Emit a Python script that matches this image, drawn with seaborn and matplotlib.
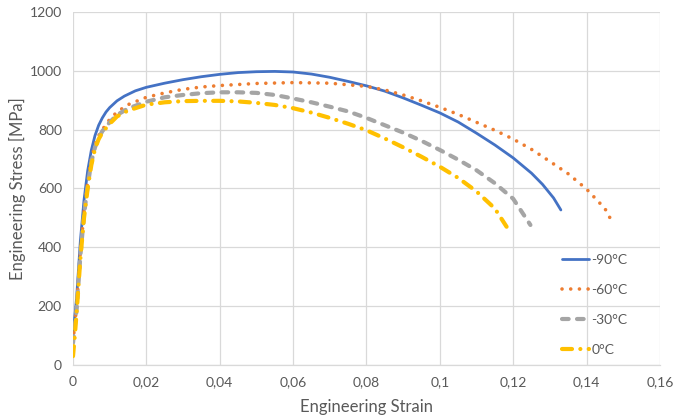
import numpy as np
import pandas as pd
import matplotlib
matplotlib.use("Agg")
import matplotlib.pyplot as plt
from matplotlib.ticker import FuncFormatter
import seaborn as sns

# Engineering stress-strain curves at four test temperatures
labels = ["-90°C", "-60°C", "-30°C", "0°C"]

strain_m90 = [0, 0.001, 0.002, 0.003, 0.004, 0.005, 0.006, 0.007, 0.008, 0.009, 0.010,
              0.012, 0.014, 0.017, 0.020, 0.025, 0.030, 0.035, 0.040, 0.045, 0.050,
              0.055, 0.060, 0.065, 0.070, 0.075, 0.080, 0.085, 0.090, 0.095, 0.100,
              0.105, 0.110, 0.115, 0.120, 0.125, 0.128, 0.131, 0.133]
stress_m90 = [100, 230, 420, 560, 660, 730, 780, 815, 840, 860, 875,
              898, 914, 932, 944, 958, 970, 980, 988, 994, 997,
              998, 996, 989, 978, 964, 949, 931, 908, 883, 857,
              826, 788, 748, 704, 652, 614, 568, 527]

strain_m60 = [0, 0.001, 0.002, 0.003, 0.004, 0.005, 0.006, 0.007, 0.008, 0.010, 0.012,
              0.015, 0.020, 0.025, 0.030, 0.035, 0.040, 0.050, 0.060, 0.070, 0.080,
              0.085, 0.090, 0.095, 0.100, 0.105, 0.110, 0.115, 0.120, 0.125, 0.130,
              0.135, 0.140, 0.145, 0.147]
stress_m60 = [80, 200, 380, 520, 620, 700, 750, 780, 800, 835, 860,
              885, 910, 925, 937, 945, 950, 957, 960, 958, 947,
              935, 918, 898, 876, 852, 825, 798, 768, 733, 692,
              650, 598, 532, 486]

strain_m30 = [0, 0.001, 0.002, 0.003, 0.004, 0.005, 0.006, 0.007, 0.008, 0.010, 0.012,
              0.015, 0.020, 0.025, 0.030, 0.035, 0.040, 0.045, 0.050, 0.055, 0.060,
              0.065, 0.070, 0.075, 0.080, 0.085, 0.090, 0.095, 0.100, 0.105, 0.110,
              0.115, 0.120, 0.1247]
stress_m30 = [75, 190, 370, 510, 610, 690, 740, 772, 795, 825, 850,
              872, 895, 910, 918, 924, 927, 927, 925, 918, 906,
              893, 878, 862, 840, 815, 790, 762, 731, 698, 662,
              618, 565, 476]

strain_0 = [0, 0.0005, 0.001, 0.002, 0.003, 0.004, 0.005, 0.006, 0.007, 0.008, 0.010,
            0.012, 0.015, 0.020, 0.025, 0.030, 0.035, 0.040, 0.045, 0.050, 0.055,
            0.060, 0.065, 0.070, 0.075, 0.080, 0.085, 0.090, 0.095, 0.100, 0.105,
            0.110, 0.115, 0.1182]
stress_0 = [30, 100, 180, 360, 500, 600, 680, 735, 768, 790, 820,
            845, 865, 885, 893, 897, 898, 898, 896, 891, 884,
            873, 858, 840, 820, 798, 770, 740, 708, 674, 636,
            590, 532, 470]

x_ticks = [0, 0.02, 0.04, 0.06, 0.08, 0.10, 0.12, 0.14, 0.16]
y_ticks = [0, 200, 400, 600, 800, 1000, 1200]

series = [
    (labels[0], strain_m90, stress_m90, "#4472C4", 2.0, "-"),
    (labels[1], strain_m60, stress_m60, "#ED7D31", 2.6, (0, (0.01, 2.4))),
    (labels[2], strain_m30, stress_m30, "#A5A5A5", 3.0, (0, (1.6, 2.0))),
    (labels[3], strain_0, stress_0, "#FFC000", 3.0, (0, (2.4, 2.0, 0.01, 2.0))),
]

sns.set_theme(style="white")
plt.rcParams["font.family"] = ["Lato", "DejaVu Sans"]

fig = plt.figure(figsize=(6.74, 4.15), dpi=100)
ax = fig.add_axes([0.1083, 0.1205, 0.8708, 0.8506])

for name, xs, ys, color, lw, ls in series:
    df = pd.DataFrame({"strain": xs, "stress": ys})
    sns.lineplot(data=df, x="strain", y="stress", ax=ax, sort=False,
                 color=color, linewidth=lw, linestyle=ls, label=name)

for line in ax.get_lines():
    line.set_dash_capstyle("round")
    line.set_solid_capstyle("round")
    line.set_solid_joinstyle("round")

ax.set_xlim(0, 0.16)
ax.set_ylim(0, 1200)
ax.set_xticks(x_ticks)
ax.set_yticks(y_ticks)


def comma_fmt(v, _pos):
    return ("%g" % round(v, 4)).replace(".", ",")


ax.xaxis.set_major_formatter(FuncFormatter(comma_fmt))
ax.grid(True, color="#D9D9D9", linewidth=0.9)
ax.set_axisbelow(True)
for side in ["top", "right", "left"]:
    ax.spines[side].set_visible(False)
ax.spines["bottom"].set_color("#D9D9D9")
ax.spines["bottom"].set_linewidth(0.9)

text_color = "#595959"
ax.tick_params(axis="both", which="both", length=0, labelsize=10,
               labelcolor=text_color, pad=8)
ax.set_xlabel("Engineering Strain", fontsize=12, color=text_color, labelpad=8)
ax.set_ylabel("Engineering Stress [MPa]", fontsize=12, color=text_color)
ax.yaxis.set_label_coords(-0.08, 0.5)

leg = ax.legend(loc="upper left", bbox_to_anchor=(0.823, 0.33), frameon=False,
                fontsize=10, labelspacing=1.3, handlelength=1.95,
                handletextpad=0.2, borderaxespad=0)
for t in leg.get_texts():
    t.set_color(text_color)
for h in leg.get_lines():
    h.set_dash_capstyle("round")
    h.set_solid_capstyle("round")

fig.savefig("out.png", dpi=100)
